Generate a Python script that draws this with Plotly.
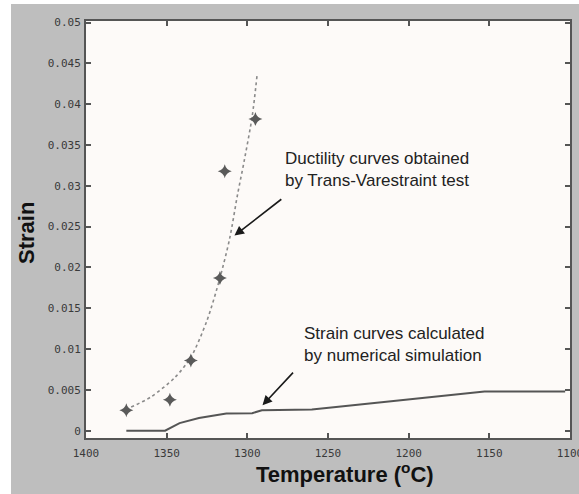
import plotly.graph_objects as go

# ---- data ----
marker_temp = [1375, 1348, 1335, 1317, 1314, 1295]
marker_strain = [0.0025, 0.0038, 0.0086, 0.0187, 0.0318, 0.0382]

ductility_temp = [1372, 1360, 1345, 1335, 1325, 1317, 1311, 1306, 1302, 1297, 1294]
ductility_strain = [0.0029, 0.0041, 0.0065, 0.0090, 0.0135, 0.0187, 0.0235, 0.0290, 0.0330, 0.0385, 0.0435]

sim_temp = [1375, 1351, 1342, 1330, 1313, 1297, 1291, 1260, 1245, 1219, 1188, 1169, 1153, 1103]
sim_strain = [0.0, 0.0, 0.00093, 0.00154, 0.0021, 0.00214, 0.0025, 0.0026, 0.0029, 0.00344, 0.0041, 0.00453, 0.0048, 0.0048]

x_ticks = [1400, 1350, 1300, 1250, 1200, 1150, 1100]
y_ticks = [0, 0.005, 0.01, 0.015, 0.02, 0.025, 0.03, 0.035, 0.04, 0.045, 0.05]
y_tick_labels = ["0", "0.005", "0.01", "0.015", "0.02", "0.025", "0.03", "0.035", "0.04", "0.045", "0.05"]

W, H = 579, 494
L, R, T, B = 86, 9, 21, 56
PW, PH = W - L - R, H - T - B

def px(xpix):
    return (xpix - L) / PW

def py(ypix):
    return (H - B - ypix) / PH

fig = go.Figure()

fig.add_trace(go.Scatter(
    x=ductility_temp, y=ductility_strain, mode="lines",
    line=dict(color="#8a8a8a", width=1.6, dash="dot", shape="spline", smoothing=0.8),
    showlegend=False, hoverinfo="skip"))

fig.add_trace(go.Scatter(
    x=sim_temp, y=sim_strain, mode="lines",
    line=dict(color="#555555", width=2),
    showlegend=False, hoverinfo="skip"))

fig.add_trace(go.Scatter(
    x=marker_temp, y=marker_strain, mode="markers",
    marker=dict(symbol="star-diamond", size=10, color="#5a5a5a"),
    showlegend=False, hoverinfo="skip"))

label_font = dict(family="Arial, Liberation Sans, sans-serif", size=17, color="#222222")

annotations = [
    dict(x=1278, y=0.0320, xref="x", yref="y", xanchor="left", yanchor="middle", align="left",
         text="Ductility curves obtained<br>by Trans-Varestraint test", showarrow=False, font=label_font),
    dict(x=1266, y=0.0106, xref="x", yref="y", xanchor="left", yanchor="middle", align="left",
         text="Strain curves calculated<br>by numerical simulation", showarrow=False, font=label_font),
    dict(x=1308, y=0.0239, ax=1278, ay=0.0285, xref="x", yref="y", axref="x", ayref="y",
         text="", showarrow=True, arrowhead=2, arrowsize=1.2, arrowwidth=1.6, arrowcolor="#1a1a1a"),
    dict(x=1290.6, y=0.0031, ax=1270.8, ay=0.0073, xref="x", yref="y", axref="x", ayref="y",
         text="", showarrow=True, arrowhead=2, arrowsize=1.2, arrowwidth=1.6, arrowcolor="#1a1a1a"),
    dict(x=px(27), y=py(233), xref="paper", yref="paper", xanchor="center", yanchor="middle",
         text="<b>Strain</b>", textangle=-90, showarrow=False,
         font=dict(family="Arial, Liberation Sans, sans-serif", size=22, color="#111111")),
    dict(x=px(345), y=py(473), xref="paper", yref="paper", xanchor="center", yanchor="middle",
         text="<b>Temperature (<sup>o</sup>C)</b>", showarrow=False,
         font=dict(family="Arial, Liberation Sans, sans-serif", size=22, color="#111111")),
]

shapes = [
    dict(type="rect", xref="paper", yref="paper", x0=px(-5), x1=px(11), y0=py(H + 5), y1=py(-5),
         fillcolor="white", line=dict(width=0), layer="above"),
    dict(type="rect", xref="paper", yref="paper", x0=px(-5), x1=px(W + 5), y0=py(4), y1=py(-5),
         fillcolor="white", line=dict(width=0), layer="above"),
]

tick_font = dict(family="DejaVu Sans Mono, monospace", size=11, color="#3a3a3a")

fig.update_layout(
    width=W, height=H,
    margin=dict(l=L, r=R, t=T, b=B, pad=0, autoexpand=False),
    paper_bgcolor="#bebebe",
    plot_bgcolor="#fdfaf8",
    annotations=annotations,
    shapes=shapes,
    xaxis=dict(range=[1400, 1100], tickvals=x_ticks, ticktext=[str(v) for v in x_ticks],
               showgrid=False, zeroline=False, showline=True, linecolor="#555555", linewidth=2,
               mirror="ticks", ticks="inside", ticklen=5, tickwidth=1.5, tickcolor="#555555",
               tickfont=tick_font, ticklabelstandoff=4, ticklabeloverflow="allow", automargin=False),
    yaxis=dict(range=[-0.0009, 0.0502], tickvals=y_ticks, ticktext=y_tick_labels,
               showgrid=False, zeroline=False, showline=True, linecolor="#555555", linewidth=2,
               mirror="ticks", ticks="inside", ticklen=5, tickwidth=1.5, tickcolor="#555555",
               tickfont=tick_font, ticklabelstandoff=1, ticklabeloverflow="allow", automargin=False),
)

fig.write_html("out.html")
